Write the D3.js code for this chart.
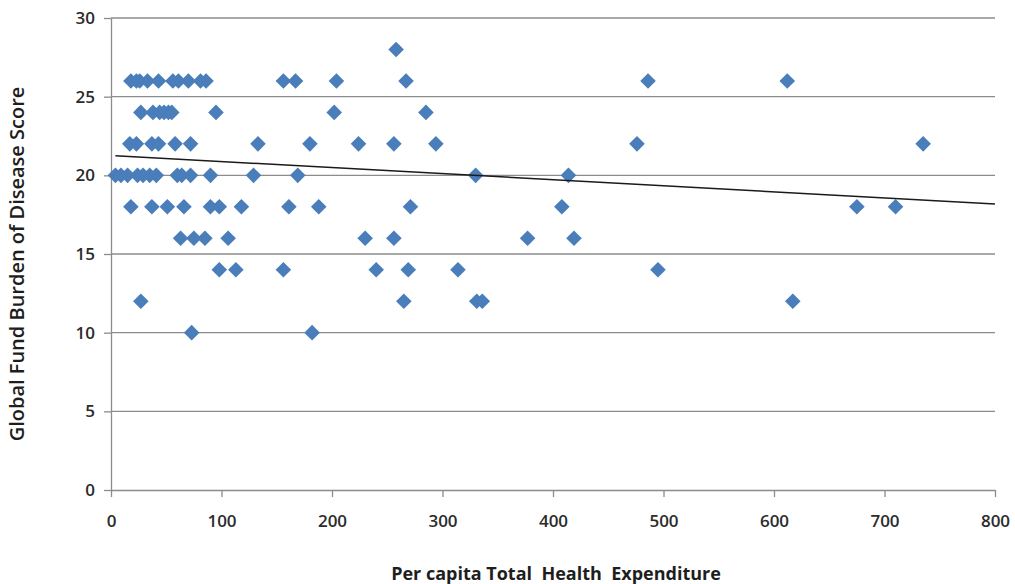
<!DOCTYPE html>
<html>
<head>
<meta charset="utf-8">
<script src="https://cdn.jsdelivr.net/npm/d3@7"></script>
<style>
  html, body { margin: 0; padding: 0; background: #fff; }
  svg { display: block; }
</style>
</head>
<body>
<svg id="chart" width="1015" height="584"></svg>
<script>
// Per capita total health expenditure (x) and Global Fund burden of disease score (y)
const expenditure = [
  258,
  18, 23, 26, 33, 43, 56, 61, 70, 81, 86, 156, 167, 204, 267, 486, 612,
  27, 38, 44, 48, 52, 55, 95, 202, 285,
  17, 23, 37, 43, 58, 72, 133, 180, 224, 256, 294, 476, 735,
  4, 9, 15, 24, 29, 35, 41, 60, 64, 72, 90, 129, 169, 330, 414,
  18, 37, 51, 66, 90, 98, 118, 161, 188, 271, 408, 675, 710,
  63, 75, 85, 106, 230, 256, 377, 419,
  98, 113, 156, 240, 269, 314, 495,
  27, 265, 331, 336, 617,
  73, 182
];
const burdenScore = [
  28,
  26, 26, 26, 26, 26, 26, 26, 26, 26, 26, 26, 26, 26, 26, 26, 26,
  24, 24, 24, 24, 24, 24, 24, 24, 24,
  22, 22, 22, 22, 22, 22, 22, 22, 22, 22, 22, 22, 22,
  20, 20, 20, 20, 20, 20, 20, 20, 20, 20, 20, 20, 20, 20, 20,
  18, 18, 18, 18, 18, 18, 18, 18, 18, 18, 18, 18, 18,
  16, 16, 16, 16, 16, 16, 16, 16,
  14, 14, 14, 14, 14, 14, 14,
  12, 12, 12, 12, 12,
  10, 10
];

// Linear trend line end points (expenditure, score)
const trendX = [4, 800];
const trendY = [21.25, 18.18];

const xTicks = [0, 100, 200, 300, 400, 500, 600, 700, 800];
const yTicks = [0, 5, 10, 15, 20, 25, 30];

const xTitle = "Per capita Total  Health  Expenditure";
const yTitle = "Global Fund Burden of Disease Score";

const svg = d3.select("#chart");
const plotLeft = 111, plotRight = 995, plotTop = 18, plotBottom = 490;

const x = d3.scaleLinear().domain([0, 800]).range([plotLeft, plotRight]);
const y = d3.scaleLinear().domain([0, 30]).range([plotBottom, plotTop]);

const gridColor = "#8c8c8c";
const font = "'Open Sans', 'DejaVu Sans', sans-serif";

// Horizontal gridlines
svg.append("g")
  .selectAll("line")
  .data(yTicks.filter(d => d > 0))
  .join("line")
  .attr("x1", plotLeft).attr("x2", plotRight)
  .attr("y1", d => y(d)).attr("y2", d => y(d))
  .attr("stroke", gridColor).attr("stroke-width", 1.3);

// Y axis
const yAxis = svg.append("g")
  .attr("transform", `translate(${plotLeft},0)`)
  .call(d3.axisLeft(y).tickValues(yTicks).tickSize(7).tickPadding(9).tickSizeOuter(0));
yAxis.select(".domain").attr("stroke", gridColor).attr("stroke-width", 1.3);
yAxis.selectAll(".tick line").attr("stroke", gridColor).attr("stroke-width", 1.3);
yAxis.selectAll(".tick text")
  .attr("font-family", font).attr("font-size", 17).attr("font-weight", 600)
  .attr("fill", "#2b2b2b");

// X axis
const xAxis = svg.append("g")
  .attr("transform", `translate(0,${plotBottom})`)
  .call(d3.axisBottom(x).tickValues(xTicks).tickSize(7).tickPadding(18).tickSizeOuter(0));
xAxis.select(".domain").attr("stroke", gridColor).attr("stroke-width", 1.3);
xAxis.selectAll(".tick line").attr("stroke", gridColor).attr("stroke-width", 1.3);
xAxis.selectAll(".tick text")
  .attr("font-family", font).attr("font-size", 17).attr("font-weight", 600)
  .attr("fill", "#2b2b2b");

// Scatter points as diamonds
const points = expenditure.map((v, i) => ({ x: v, y: burdenScore[i] }));
const diamond = d3.symbol().type(d3.symbolDiamond2).size(155);
svg.append("g")
  .selectAll("path")
  .data(points)
  .join("path")
  .attr("d", diamond)
  .attr("transform", d => `translate(${x(d.x)},${y(d.y)})`)
  .attr("fill", "#4a7ebb");

// Trend line
svg.append("path")
  .datum(trendX.map((v, i) => [v, trendY[i]]))
  .attr("d", d3.line().x(d => x(d[0])).y(d => y(d[1])))
  .attr("fill", "none")
  .attr("stroke", "#1a1a1a")
  .attr("stroke-width", 1.5);

// Axis titles
svg.append("text")
  .attr("x", 556).attr("y", 580)
  .attr("text-anchor", "middle")
  .attr("font-family", font).attr("font-size", 18).attr("font-weight", 700)
  .attr("fill", "#1e1e1e")
  .style("white-space", "pre")
  .text(xTitle);

svg.append("text")
  .attr("transform", `translate(24,264) rotate(-90)`)
  .attr("text-anchor", "middle")
  .attr("font-family", font).attr("font-size", 20).attr("font-weight", 600)
  .attr("fill", "#1e1e1e")
  .text(yTitle);
</script>
</body>
</html>
